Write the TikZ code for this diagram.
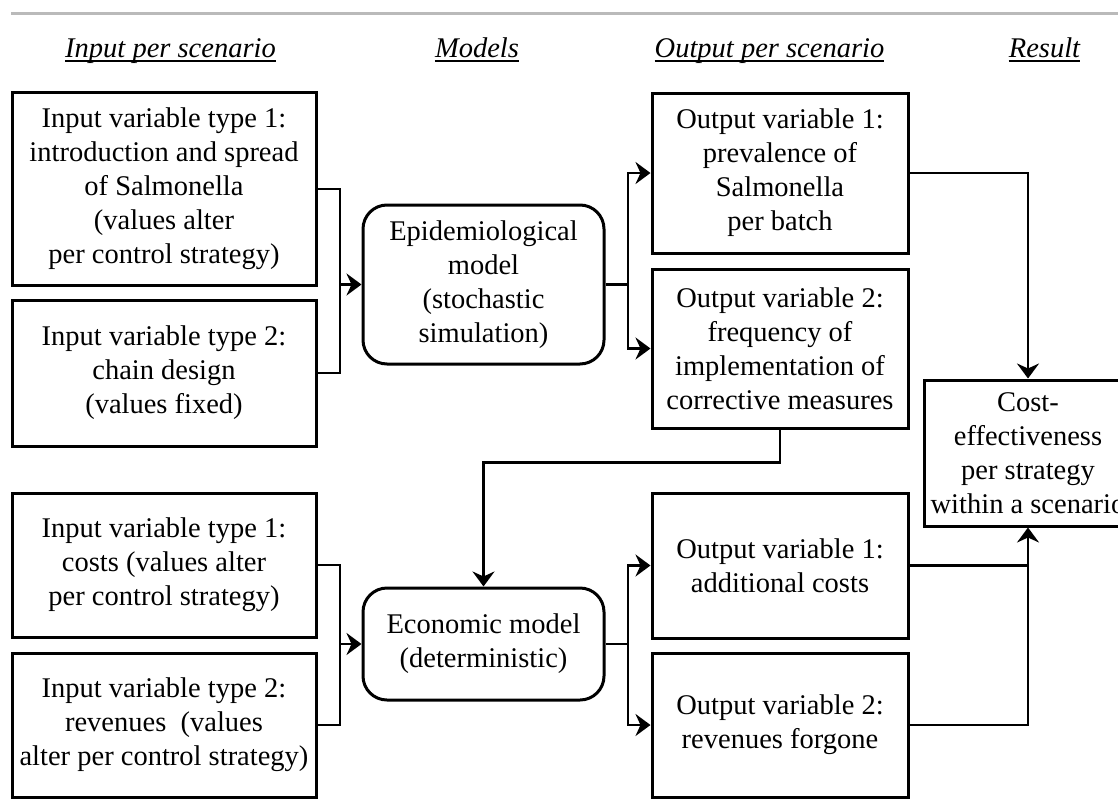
\documentclass[tikz,border=0pt]{standalone}
\usepackage{fontspec}
\setmainfont{Liberation Serif}
\usepackage{xcolor}
\usetikzlibrary{arrows.meta}

\begin{document}
\begin{tikzpicture}[x=1pt, y=-1pt,
  box/.style={draw, line width=3pt, align=center, inner sep=0pt,
    font=\fontsize{28.5}{34}\selectfont},
  model/.style={box, rounded corners=24pt},
  head/.style={anchor=base, inner sep=0pt, font=\fontsize{28.5}{34}\selectfont\itshape},
  link/.style={line width=2.8pt},
  arr/.style={link, -{Stealth[length=15pt, width=22pt, inset=5pt]}}]
\useasboundingbox (0,0) rectangle (1118,803);
\draw[line width=3pt, color=black!27] (11,13) -- (1118,13);

% column heads
\node[head] (hin) at (170.5,57) {Input per scenario};
\node[head] (hmod) at (477,57) {Models};
\node[head] (hout) at (769.5,57) {Output per scenario};
\node[head] (hres) at (1044.5,57) {Result};
\foreach \h in {hin, hmod, hout, hres}
  \draw[line width=1.3pt] ([yshift=-4pt]\h.base west) -- ([yshift=-4pt]\h.base east);

% inputs
\node[box, minimum width=304pt, minimum height=193pt] (in1) at (164,189)
  {Input variable type 1:\\ introduction and spread\\ of Salmonella\\ (values alter\\ per control strategy)};
\node[box, minimum width=304pt, minimum height=146pt] (in2) at (164,373)
  {Input variable type 2:\\ chain design\\ (values fixed)};
\node[box, minimum width=304pt, minimum height=144pt] (in3) at (164,565)
  {Input variable type 1:\\ costs (values alter\\ per control strategy)};
\node[box, minimum width=304pt, minimum height=144pt] (in4) at (164,725)
  {Input variable type 2:\\ revenues\ \ (values\\ alter per control strategy)};

% models
\node[model, minimum width=241pt, minimum height=159pt] (epi) at (483.5,284.5)
  {Epidemiological\\ model\\ (stochastic\\ simulation)};
\node[model, minimum width=241pt, minimum height=112pt] (econ) at (483.5,644)
  {Economic model\\ (deterministic)};

% outputs
\node[box, minimum width=256pt, minimum height=160pt] (out1) at (780,173)
  {Output variable 1:\\ prevalence of\\ Salmonella\\ per batch};
\node[box, minimum width=256pt, minimum height=159pt] (out2) at (780,348.5)
  {Output variable 2:\\ frequency of\\ implementation of\\ corrective measures};
\node[box, minimum width=256pt, minimum height=145pt] (out3) at (780,565.5)
  {Output variable 1:\\ additional costs};
\node[box, minimum width=256pt, minimum height=144pt] (out4) at (780,725)
  {Output variable 2:\\ revenues forgone};

% result
\node[box, minimum width=208pt, minimum height=146pt] (res) at (1028,453)
  {Cost-\\ effectiveness\\ per strategy\\ within a scenario};

% joints
\coordinate (jepi) at (340,284.5);
\coordinate (sepi) at (628,284.5);
\coordinate (jeco) at (340,644);
\coordinate (seco) at (628,644);
\coordinate (merge) at (1028,565.5);

\draw[link] (in1.east) -| (jepi) |- (in2.east);
\draw[arr] (jepi) -- (epi.west);
\draw[link] (epi.east) -- (sepi);
\draw[arr] (sepi) |- (out1.west);
\draw[arr] (sepi) |- (out2.west);
\draw[arr] (out1.east) -| (res.north);
\draw[arr] (out2.south) -- ++(0,33) -| (econ.north);

\draw[link] (in3.east) -| (jeco) |- (in4.east);
\draw[arr] (jeco) -- (econ.west);
\draw[link] (econ.east) -- (seco);
\draw[arr] (seco) |- (out3.west);
\draw[arr] (seco) |- (out4.west);
\draw[link] (out4.east) -| (merge);
\draw[arr] (out3.east) -| (res.south);
\end{tikzpicture}
\end{document}
